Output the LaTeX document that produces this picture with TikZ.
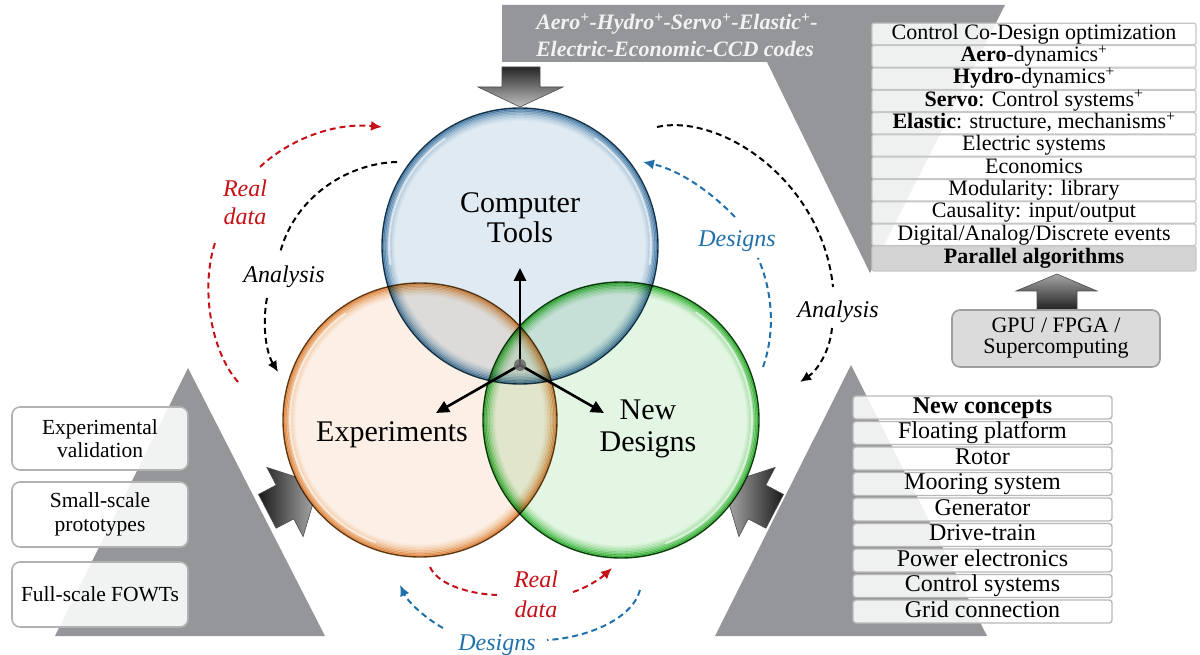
\documentclass[tikz,border=0pt]{standalone}
\usepackage{fontspec}
\setmainfont{Liberation Serif}
\usetikzlibrary{arrows.meta}
\newcommand{\myfs}[2]{\fontsize{#1}{#2}\selectfont}
\definecolor{bggray}{RGB}{148,150,153}
\definecolor{redarr}{RGB}{196,16,22}
\definecolor{bluearr}{RGB}{32,112,171}
\definecolor{bA}{HTML}{DFEAF2}\definecolor{bC}{HTML}{6FA0C2}\definecolor{bE}{HTML}{27465A}
\definecolor{oA}{HTML}{FCEFE5}\definecolor{oC}{HTML}{EAA862}\definecolor{oE}{HTML}{6A4A22}
\definecolor{gA}{HTML}{E3F5E3}\definecolor{gC}{HTML}{52C852}\definecolor{gE}{HTML}{1C4A1C}
\begin{document}
\begin{tikzpicture}[x=1pt,y=-1pt,
  rowA/.style={draw=black!22, line width=1.2pt, fill=white, fill opacity=.86, text opacity=1,
    rounded corners=2pt, minimum width=324pt, minimum height=21.5pt, inner sep=0pt,
    font=\myfs{22}{24}, text height=15pt, text depth=4.5pt},
  rowB/.style={draw=black!28, line width=1.4pt, fill=white, fill opacity=.86, text opacity=1,
    rounded corners=3pt, minimum width=259pt, minimum height=23pt, inner sep=0pt,
    font=\myfs{24}{26}, text height=16.5pt, text depth=5pt},
  sidebox/.style={draw=black!30, line width=1.6pt, fill=white, fill opacity=.88, text opacity=1,
    rounded corners=8pt, minimum width=176pt, inner sep=0pt, align=center, font=\myfs{21.5}{23.5}},
  bigtxt/.style={align=center, inner sep=0pt},
  lbl/.style={inner sep=0pt, align=center, font=\itshape\myfs{24}{29}},
  dashbase/.style={line width=2pt, dash pattern=on 6pt off 4pt},
  dashred/.style={dashbase, draw=redarr},
  dashblk/.style={dashbase, draw=black},
  dashblue/.style={dashbase, draw=bluearr},
  tipd/.style={-{Latex[length=11pt,width=10pt]}},
  cenarr/.style={line width=2.6pt, -{Triangle[length=13pt,width=12pt]}},
  ring/.style={circle, inner sep=0pt, line width=1.4pt},
  hilite/.style={white, line width=2pt, opacity=.6, line cap=round}
]
\useasboundingbox (0,0) rectangle (1200,655);

% grey background shapes
\fill[bggray] (502,5) -- (1005,5) -- (870,273) -- (767,62) -- (502,62) -- cycle;
\fill[bggray] (55,636) -- (325,636) -- (188,368) -- cycle;
\fill[bggray] (715,636) -- (987,636) -- (851,365) -- cycle;

% banner text
\node[anchor=base, inner sep=0pt, text=white!95!black, font=\bfseries\itshape\myfs{22}{24}] (ban1) at (677,30)
  {Aero\textsuperscript{+}-Hydro\textsuperscript{+}-Servo\textsuperscript{+}-Elastic\textsuperscript{+}-};
\node[anchor=base, inner sep=0pt, text=white!95!black, font=\bfseries\itshape\myfs{22}{24}] (ban2) at (675,57)
  {Electric-Economic-CCD codes};

% right top table
\node[rowA] (r0) at (1034,34.1) {Control Co-Design optimization};
\node[rowA] (r1) at (1034,56.4) {\textbf{Aero}-dynamics\textsuperscript{+}};
\node[rowA] (r2) at (1034,78.7) {\textbf{Hydro}-dynamics\textsuperscript{+}};
\node[rowA] (r3) at (1034,101.0) {\textbf{Servo}: Control systems\textsuperscript{+}};
\node[rowA] (r4) at (1034,123.3) {\textbf{Elastic}: structure, mechanisms\textsuperscript{+}};
\node[rowA] (r5) at (1034,145.6) {Electric systems};
\node[rowA] (r6) at (1034,167.9) {Economics};
\node[rowA] (r7) at (1034,190.2) {Modularity: library};
\node[rowA] (r8) at (1034,212.5) {Causality: input/output};
\node[rowA] (r9) at (1034,234.8) {Digital/Analog/Discrete events};
\node[rowA, fill=black!17, fill opacity=1, minimum height=25pt] (r10) at (1034,258.5) {\textbf{Parallel algorithms}};

% GPU arrow and box
\shade[top color=black!35, bottom color=black!90, draw=black!70, line width=0.6pt]
  (1057,274) -- (1097,291) -- (1077,291) -- (1077,312) -- (1037,312) -- (1037,291) -- (1016,291) -- cycle;
\node[draw=black!38, line width=1.6pt, fill=black!14, rounded corners=8pt, minimum width=208pt,
  minimum height=57pt, inner sep=0pt, align=center, font=\myfs{22}{21}] (gpu) at (1056,338.5)
  {GPU / FPGA /\\Supercomputing};

% right bottom table
\node[rowB] (n0) at (982.5,407.5) {\textbf{New concepts}};
\node[rowB] (n1) at (982.5,433.0) {Floating platform};
\node[rowB] (n2) at (982.5,458.5) {Rotor};
\node[rowB] (n3) at (982.5,484.0) {Mooring system};
\node[rowB] (n4) at (982.5,509.5) {Generator};
\node[rowB] (n5) at (982.5,535.0) {Drive-train};
\node[rowB] (n6) at (982.5,560.5) {Power electronics};
\node[rowB] (n7) at (982.5,586.0) {Control systems};
\node[rowB] (n8) at (982.5,611.5) {Grid connection};

% left boxes
\node[sidebox, minimum height=63pt] (e1) at (100,438.5) {Experimental\\validation};
\node[sidebox, minimum height=65pt] (e2) at (100,514.5) {Small-scale\\prototypes};
\node[sidebox, minimum height=65pt] (e3) at (100,594.5) {Full-scale FOWTs};

% block arrows
\shade[top color=black!85, bottom color=black!25, draw=black!70, line width=0.6pt]
  (502,67) -- (540,67) -- (540,87) -- (563,87) -- (520,107) -- (478,87) -- (502,87) -- cycle;
\shade[left color=black!90, right color=black!30, draw=black!70, line width=0.6pt]
  (318.7,484.4) -- (303.1,536.6) -- (293.8,518.9) -- (276.1,528.2) -- (258.5,494.4) -- (276.2,485.1) -- (266.9,467.4) -- cycle;
\shade[left color=black!30, right color=black!90, draw=black!70, line width=0.6pt]
  (723.3,484.4) -- (738.9,536.6) -- (748.2,518.9) -- (765.9,528.2) -- (783.5,494.4) -- (765.8,485.1) -- (775.1,467.4) -- cycle;

% circles: white underlay, then glass discs blended by multiply
\fill[white] (420,420) circle[radius=137pt];
\fill[white] (520,246) circle[radius=138pt];
\fill[white] (621,420) circle[radius=138pt];

\begin{scope}[blend mode=multiply]
  \fill[oA] (420,420) circle[radius=137pt];
  \fill[bA] (520,246) circle[radius=138pt];
  \fill[gA] (621,420) circle[radius=138pt];
  \foreach \k/\p in {0/85,1/68,2/52,3/39,4/28,5/19,6/12,7/6}{
    \draw[oC!\p!white, line width=2.3pt] (420,420) circle[radius={(136-1.5*\k)*1pt}];
    \draw[bC!\p!white, line width=2.3pt] (520,246) circle[radius={(137-1.5*\k)*1pt}];
    \draw[gC!\p!white, line width=2.3pt] (621,420) circle[radius={(137-1.5*\k)*1pt}];
  }
  \node[ring, draw=oE, minimum size=274pt] (cexp) at (420,420) {};
  \node[ring, draw=bE, minimum size=276pt] (ccomp) at (520,246) {};
  \node[ring, draw=gE, minimum size=276pt] (cnew) at (621,420) {};
\end{scope}
% glass highlights on the free parts of each rim
\draw[hilite] (520,246) ++(172:131) arc[start angle=172, end angle=235, radius=131];
\draw[hilite] (520,246) ++(-55:131) arc[start angle=-55, end angle=8, radius=131];
\draw[hilite] (420,420) ++(110:130) arc[start angle=110, end angle=235, radius=130];
\draw[hilite] (621,420) ++(-55:131) arc[start angle=-55, end angle=70, radius=131];

\node[bigtxt, font=\myfs{30}{30}] (tcomp) at (520,218) {Computer\\Tools};
\node[bigtxt, font=\myfs{30}{30}, anchor=base] (texp) at (392,441) {Experiments};
\node[bigtxt, font=\myfs{30}{32}] (tnew) at (648,429) {New\\Designs};

% centre arrows
\coordinate (c0) at (520,365);
\coordinate (c1) at (520,268);
\coordinate (c2) at (436,413);
\coordinate (c3) at (604,413);
\draw[cenarr] (c0) -- (c1);
\draw[cenarr] (c0) -- (c2);
\draw[cenarr] (c0) -- (c3);
\node[circle, fill=black!60, fill opacity=.85, minimum size=12pt, inner sep=0pt] (cdot) at (c0) {};

% dashed curved arrows: left
\coordinate (rl1) at (238,382); \coordinate (rl2) at (216,240);
\coordinate (rl3) at (260,167); \coordinate (rl4) at (382,127);
\draw[dashred] (rl1) .. controls (210,350) and (200,285) .. (rl2);
\draw[dashred, tipd] (rl3) .. controls (285,143) and (330,122) .. (rl4);
\node[lbl, text=redarr, font=\itshape\myfs{24}{28}] (lrl) at (245,202) {Real\\data};

\coordinate (bl1) at (397,162); \coordinate (bl2) at (280,253);
\coordinate (bl3) at (267,298); \coordinate (bl4) at (278,372);
\draw[dashblk] (bl1) .. controls (350,163) and (295,195) .. (bl2);
\draw[dashblk, tipd] (bl3) .. controls (262,325) and (266,352) .. (bl4);
\node[lbl, anchor=base] (lbl1) at (284,283) {Analysis};

% right
\coordinate (br1) at (657,127); \coordinate (br2) at (833,287);
\coordinate (br3) at (832,328); \coordinate (br4) at (800,382);
\draw[dashblk] (br1) .. controls (720,113) and (822,180) .. (br2);
\draw[dashblk, tipd] (br3) .. controls (830,350) and (818,370) .. (br4);
\node[lbl, anchor=base] (lbr) at (838,317) {Analysis};

\coordinate (dr1) at (763,367); \coordinate (dr2) at (758,258);
\coordinate (dr3) at (735,217); \coordinate (dr4) at (643,162);
\draw[dashblue] (dr1) .. controls (776,330) and (772,290) .. (dr2);
\draw[dashblue, tipd] (dr3) .. controls (712,193) and (680,170) .. (dr4);
\node[lbl, anchor=base, text=bluearr] (ldr) at (737,247) {Designs};

% bottom
\coordinate (rb1) at (430,567); \coordinate (rb2) at (497,595);
\coordinate (rb3) at (573,592); \coordinate (rb4) at (612,568);
\draw[dashred] (rb1) .. controls (438,585) and (470,594) .. (rb2);
\draw[dashred, tipd] (rb3) .. controls (586,588) and (600,579) .. (rb4);
\node[lbl, text=redarr, font=\itshape\myfs{24}{30}] (lrb) at (536,594) {Real\\data};

\coordinate (db1) at (640,590); \coordinate (db2) at (547,640);
\coordinate (db3) at (443,628); \coordinate (db4) at (400,585);
\draw[dashblue] (db1) .. controls (632,620) and (585,638) .. (db2);
\draw[dashblue, tipd] (db3) .. controls (425,618) and (408,602) .. (db4);
\node[lbl, anchor=base, text=bluearr] (ldb) at (497,650) {Designs};
\end{tikzpicture}
\end{document}
